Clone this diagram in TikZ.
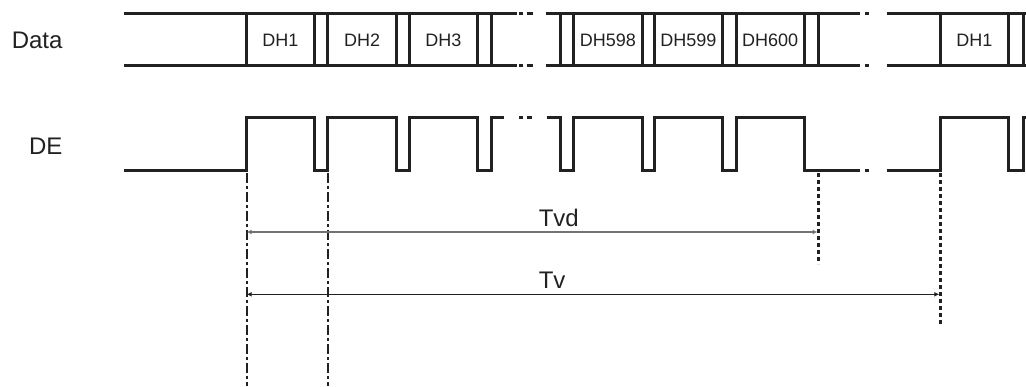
\documentclass[tikz,border=0pt]{standalone}
\usepackage{fontspec}
\setmainfont{Liberation Sans}
\usepackage{xcolor}
\usetikzlibrary{arrows.meta}
\definecolor{wave}{gray}{0.13}
\definecolor{tvdgray}{gray}{0.45}

\begin{document}
\begin{tikzpicture}[x=1pt, y=-1pt, line width=3pt,
    sig/.style={draw=wave, line width=3pt},
    rowlabel/.style={anchor=base east, inner sep=0pt, text=wave, font=\fontsize{24}{28}\selectfont},
    cell/.style={anchor=base, inner sep=0pt, text=wave, font=\fontsize{18}{22}\selectfont},
    spanlabel/.style={anchor=base west, inner sep=0pt, text=wave, font=\fontsize{24}{28}\selectfont},
    edgeline/.style={draw=wave, line width=2pt, dash pattern=on 10pt off 3pt on 3pt off 3pt},
    edgedot/.style={draw=wave, line width=2.5pt, dash pattern=on 4pt off 3pt},
    twoway/.style={{Latex[length=5pt,width=5pt]}-{Latex[length=5pt,width=5pt]}}]
    \useasboundingbox (0,0) rectangle (1026,386);

    \node[rowlabel] (data) at (64,48.3) {Data};
    \node[rowlabel] (de)   at (64,154)  {DE};

    \node[cell] (dh1)   at (280.5,46.7) {DH1};
    \node[cell] (dh2)   at (362.2,46.7) {DH2};
    \node[cell] (dh3)   at (443.5,46.7) {DH3};
    \node[cell] (dh598) at (607.8,46.7) {DH598};
    \node[cell] (dh599) at (688.4,46.7) {DH599};
    \node[cell] (dh600) at (770.2,46.7) {DH600};
    \node[cell] (dh1b)  at (974.3,46.7) {DH1};

    \draw[sig] (124,13.3) -- (517,13.3) (124,65) -- (517,65)
               (545.7,13.3) -- (860,13.3) (545.7,65) -- (860,65)
               (886.7,13.3) -- (1026,13.3) (886.7,65) -- (1026,65);
    \draw[sig] (519.3,13.3) -- (522.7,13.3) (526.7,13.3) -- (532.7,13.3)
               (519.3,65) -- (522.7,65) (526.7,65) -- (532.7,65)
               (865,13.3) -- (869.3,13.3) (865,65) -- (869.3,65);
    \draw[sig] (246.7,13.3) -- (246.7,65) (314.3,13.3) -- (314.3,65)
               (327.7,13.3) -- (327.7,65) (396.7,13.3) -- (396.7,65)
               (409.3,13.3) -- (409.3,65) (477.7,13.3) -- (477.7,65)
               (491.3,13.3) -- (491.3,65);
    \draw[sig] (560,13.3) -- (560,65) (573.3,13.3) -- (573.3,65)
               (642.3,13.3) -- (642.3,65) (654,13.3) -- (654,65)
               (722.7,13.3) -- (722.7,65) (736,13.3) -- (736,65)
               (804.3,13.3) -- (804.3,65) (818.3,13.3) -- (818.3,65);
    \draw[sig] (940.3,13.3) -- (940.3,65) (1008.3,13.3) -- (1008.3,65)
               (1023.3,13.3) -- (1023.3,65);

    \draw[sig] (124,170.5) -- (246.7,170.5) -- (246.7,117.3) -- (314.3,117.3)
               -- (314.3,170.5) -- (327.7,170.5) -- (327.7,117.3) -- (396.7,117.3)
               -- (396.7,170.5) -- (409.3,170.5) -- (409.3,117.3) -- (477.7,117.3)
               -- (477.7,170.5) -- (491.3,170.5) -- (491.3,117.3) -- (504,117.3);
    \draw[sig] (519.3,117.3) -- (523.3,117.3) (527.3,117.3) -- (532.3,117.3)
               (865,170.5) -- (869.3,170.5);
    \draw[sig] (546.7,117.3) -- (560,117.3) -- (560,170.5) -- (573.3,170.5)
               -- (573.3,117.3) -- (642.3,117.3) -- (642.3,170.5) -- (654,170.5)
               -- (654,117.3) -- (722.7,117.3) -- (722.7,170.5) -- (736,170.5)
               -- (736,117.3) -- (804.3,117.3) -- (804.3,170.5) -- (860,170.5);
    \draw[sig] (886.7,170.5) -- (940.3,170.5) -- (940.3,117.3) -- (1008.3,117.3)
               -- (1008.3,170.5) -- (1023.3,170.5) -- (1023.3,117.3) -- (1026,117.3);

    \coordinate (m1)  at (246.7,173);
    \coordinate (m1e) at (246.7,386);
    \coordinate (m2)  at (327.7,173);
    \coordinate (m2e) at (327.7,386);
    \coordinate (m3)  at (818.3,173);
    \coordinate (m3e) at (818.3,264);
    \coordinate (m4)  at (940.3,173);
    \coordinate (m4e) at (940.3,326);

    \draw[edgeline] (m1) -- (m1e) (m2) -- (m2e);
    \draw[edgedot] (m3) -- (m3e) (m4) -- (m4e);

    \coordinate (tvdl) at (246.7,232);
    \coordinate (tvdr) at (817.5,232);
    \coordinate (tvl)  at (246.7,294.3);
    \coordinate (tvr)  at (939.3,294.3);

    \draw[twoway, draw=tvdgray, fill=tvdgray, line width=2pt] (tvdl) -- (tvdr);
    \draw[twoway, draw=wave, fill=wave, line width=1pt] (tvl) -- (tvr);

    \node[spanlabel] (tvd) at (537.3,226) {Tvd};
    \node[spanlabel] (tv)  at (537.3,288.3) {Tv};
  \end{tikzpicture}
\end{document}
